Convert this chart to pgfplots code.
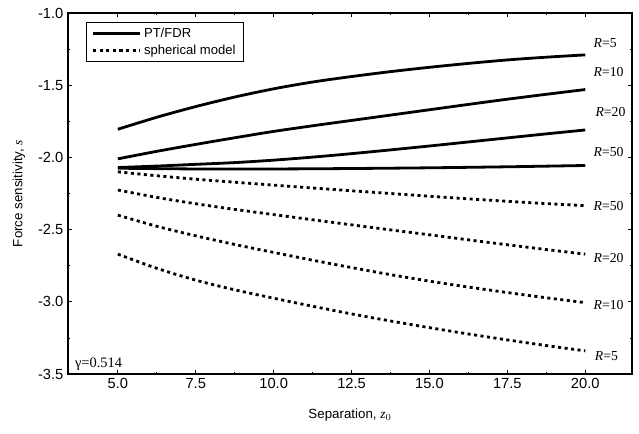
\documentclass[border=0pt]{standalone}
\usepackage{fontspec}
\setmainfont{Liberation Sans}
\newfontfamily\tms{Liberation Serif}
\usepackage{pgfplots}
\pgfplotsset{compat=1.18}
\begin{document}
\begin{tikzpicture}
\useasboundingbox (-51pt,-44.25pt) rectangle (428.25pt,280.5pt);
\begin{axis}[
  scale only axis,
  width=423pt, height=270.75pt,
  xmin=3.4, xmax=21.5,
  ymin=-3.5, ymax=-1.0,
  xtick={5,7.5,10,12.5,15,17.5,20},
  ytick={-3.5,-3,-2.5,-2,-1.5,-1},
  minor x tick num=1,
  minor y tick num=1,
  tick align=inside,
  major tick length=3pt,
  minor tick length=1.5pt,
  axis line style={line width=0.9pt},
  every tick/.style={black, line width=0.6pt},
  /pgf/number format/.cd, fixed, fixed zerofill, precision=1, assume math mode=true,
  /pgfplots/.cd,
  ticklabel style={font=\fontsize{11}{13}\selectfont},
  xlabel={Separation, {\tms\itshape z}$_{\tms 0}$},
  ylabel={Force sensitivity, {\tms\itshape s}},
  label style={font=\fontsize{12.8}{14}\selectfont},
  every axis x label/.style={at={(axis description cs:0.5,-0.113)}, anchor=center},
  every axis y label/.style={at={(axis description cs:-0.087,0.5)}, rotate=90, anchor=center},
  legend style={at={(axis description cs:0.032,0.975)}, anchor=north west,
    draw=black, line width=0.8pt, font=\fontsize{9.8}{11}\selectfont,
    inner xsep=4pt, inner ysep=2pt, row sep=0pt},
  legend cell align=left,
  legend image code/.code={\draw[#1] (0pt,0pt) -- (35pt,0pt);},
  solid curve/.style={black, line width=2.1pt, smooth},
  dot curve/.style={black, line width=2.1pt, dash pattern=on 2.3pt off 2.6pt, smooth},
]
\addlegendimage{black, line width=2.1pt}
\addlegendentry{PT/FDR}
\addlegendimage{black, line width=2.1pt, dash pattern=on 2.3pt off 2.6pt}
\addlegendentry{spherical model}

% PT/FDR
\addplot[solid curve, forget plot] coordinates {(5,-1.805)(6.25,-1.722)(7.5,-1.648)(8.75,-1.582)(10,-1.525)(11.25,-1.478)(12.5,-1.44)(13.75,-1.406)(15,-1.376)(16.25,-1.349)(17.5,-1.325)(18.75,-1.306)(20,-1.29)};
\addplot[solid curve, forget plot] coordinates {(5,-2.01)(6.25,-1.958)(7.5,-1.91)(8.75,-1.864)(10,-1.82)(11.25,-1.781)(12.5,-1.744)(13.75,-1.707)(15,-1.67)(16.25,-1.633)(17.5,-1.597)(18.75,-1.563)(20,-1.53)};
\addplot[solid curve, forget plot] coordinates {(5,-2.07)(6.25,-2.06)(7.5,-2.048)(8.75,-2.036)(10,-2.019)(11.25,-1.998)(12.5,-1.974)(13.75,-1.948)(15,-1.921)(16.25,-1.893)(17.5,-1.865)(18.75,-1.837)(20,-1.81)};
\addplot[solid curve, forget plot] coordinates {(5,-2.075)(7.5,-2.08)(10,-2.08)(12.5,-2.077)(15,-2.072)(17.5,-2.065)(20,-2.056)};

% spherical model
\addplot[dot curve, forget plot] coordinates {(5,-2.10)(6.25,-2.127)(7.5,-2.151)(8.75,-2.172)(10,-2.192)(11.25,-2.212)(12.5,-2.231)(13.75,-2.25)(15,-2.269)(16.25,-2.287)(17.5,-2.304)(18.75,-2.32)(20,-2.334)};
\addplot[dot curve, forget plot] coordinates {(5,-2.226)(6.25,-2.277)(7.5,-2.321)(8.75,-2.36)(10,-2.396)(11.25,-2.432)(12.5,-2.467)(13.75,-2.502)(15,-2.536)(16.25,-2.571)(17.5,-2.605)(18.75,-2.638)(20,-2.67)};
\addplot[dot curve, forget plot] coordinates {(5,-2.40)(6.25,-2.477)(7.5,-2.543)(8.75,-2.603)(10,-2.658)(11.25,-2.712)(12.5,-2.763)(13.75,-2.812)(15,-2.857)(16.25,-2.898)(17.5,-2.936)(18.75,-2.972)(20,-3.006)};
\addplot[dot curve, forget plot] coordinates {(5,-2.67)(6.25,-2.768)(7.5,-2.85)(8.75,-2.917)(10,-2.975)(11.25,-3.031)(12.5,-3.084)(13.75,-3.133)(15,-3.179)(16.25,-3.223)(17.5,-3.264)(18.75,-3.303)(20,-3.34)};

\begin{scope}[every node/.style={anchor=west, inner sep=0pt, font=\tms\fontsize{10.3}{12}\selectfont}]
\node at (axis cs:20.26,-1.208) {\textit{R}=5};
\node at (axis cs:20.26,-1.408) {\textit{R}=10};
\node at (axis cs:20.32,-1.685) {\textit{R}=20};
\node at (axis cs:20.26,-1.965) {\textit{R}=50};
\node at (axis cs:20.26,-2.34) {\textit{R}=50};
\node at (axis cs:20.26,-2.694) {\textit{R}=20};
\node at (axis cs:20.26,-3.02) {\textit{R}=10};
\node at (axis cs:20.3,-3.375) {\textit{R}=5};
\node[font=\tms\fontsize{10.8}{12}\selectfont] at (axis cs:3.62,-3.43) {γ=0.514};
\end{scope}
\end{axis}
\end{tikzpicture}
\end{document}
